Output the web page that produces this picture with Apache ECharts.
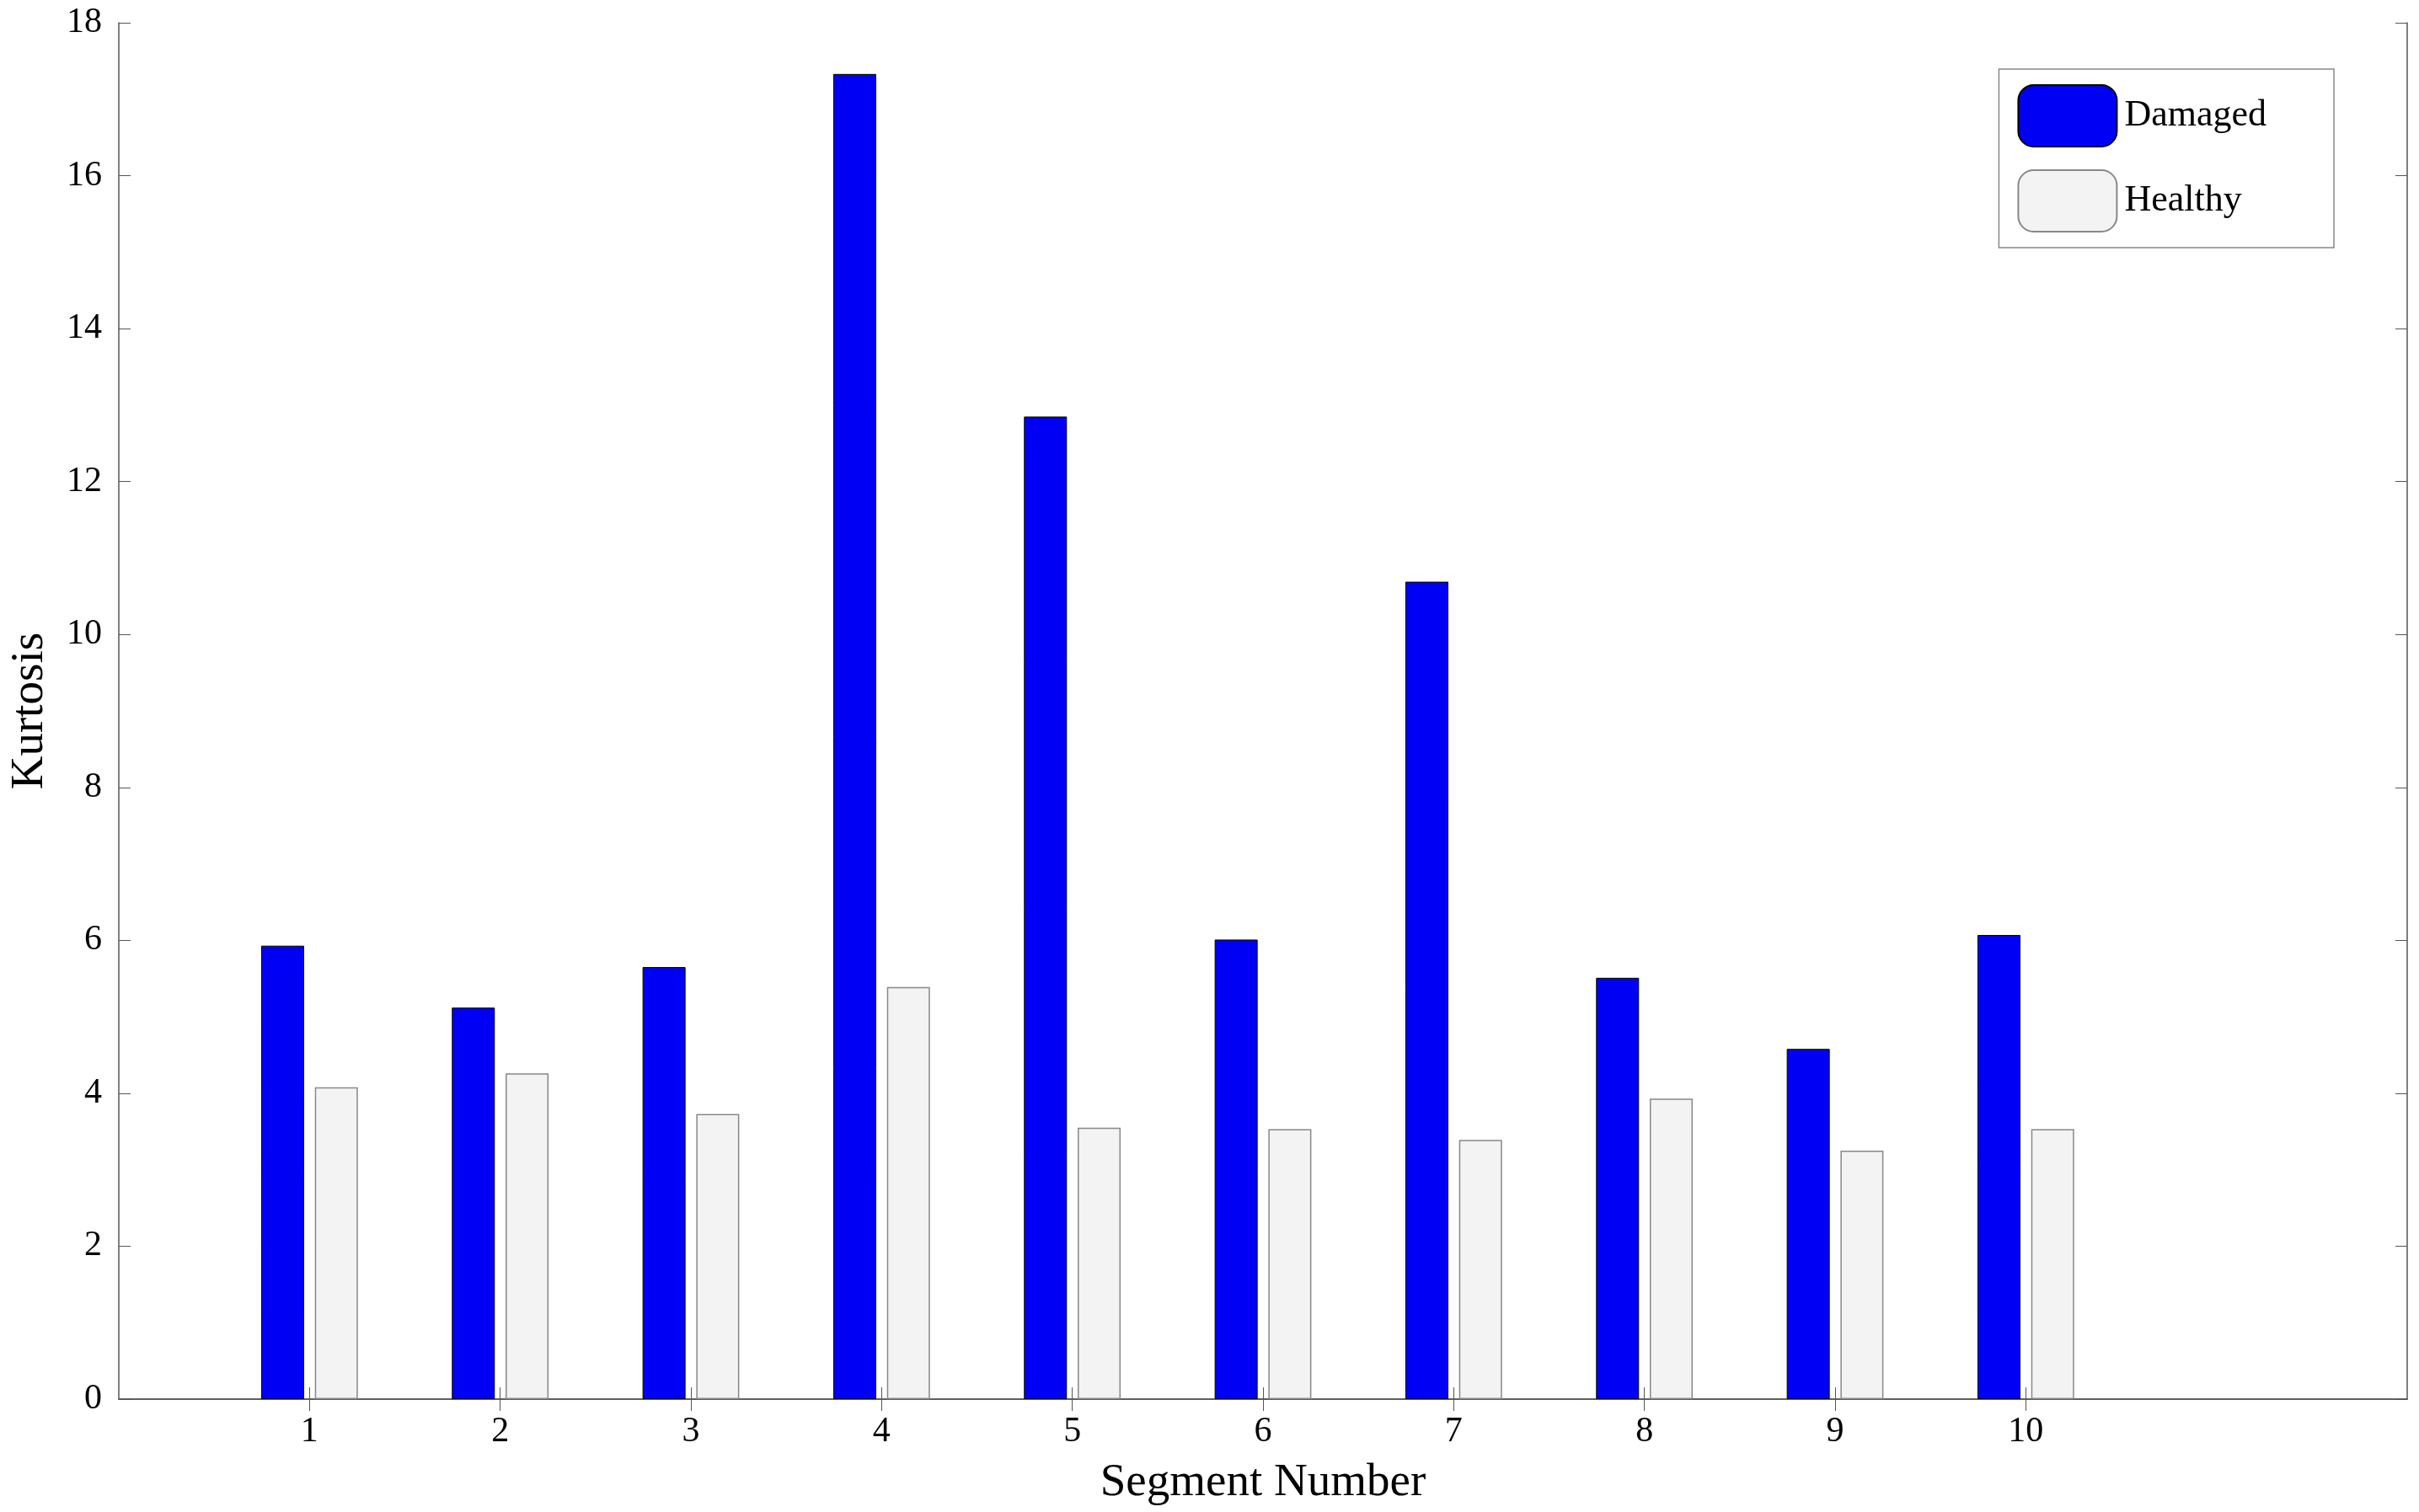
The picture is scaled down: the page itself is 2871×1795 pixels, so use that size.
<!DOCTYPE html>
<html><head><meta charset="utf-8">
<script src="https://cdn.jsdelivr.net/npm/echarts@6/dist/echarts.min.js"></script>
<style>html,body{margin:0;padding:0;background:#fff}#c{width:2871px;height:1795px}</style>
</head><body><div id="c"></div>
<script>
const categories = ['', '1','2','3','4','5','6','7','8','9','10','',''];
const damaged = [null,5.93,5.12,5.65,17.33,12.85,6.01,10.69,5.51,4.58,6.07,null,null];
const healthy = [null,4.08,4.26,3.73,5.39,3.55,3.53,3.39,3.93,3.25,3.53,null,null];
const font = 'Liberation Serif';
const chart = echarts.init(document.getElementById('c'));
const xCommon = {
  type:'category', data:categories, boundaryGap:false,
  axisLine:{lineStyle:{color:'#555',width:1.5}},
  axisTick:{inside:true,length:14,lineStyle:{color:'#555'},interval:(i,v)=>v!==''},
  splitLine:{show:false}
};
const yCommon = {
  type:'value', min:0, max:18, interval:2,
  axisLine:{show:true,lineStyle:{color:'#555',width:1.5}},
  axisTick:{show:true,inside:true,length:14,lineStyle:{color:'#555'}},
  splitLine:{show:false}
};
chart.setOption({
  animation:false,
  textStyle:{fontFamily:font},
  grid:{left:137,right:14,top:27,bottom:134},
  legend:{
    orient:'vertical', right:101, top:82, padding:[18,80,18,22],
    borderColor:'#888', borderWidth:1.5, itemWidth:117, itemHeight:73, itemGap:26,
    textStyle:{fontFamily:font,fontSize:44,color:'#000',padding:[0,0,0,4]},
    data:['Damaged','Healthy']
  },
  xAxis:[
    Object.assign({}, xCommon, {position:'bottom',name:'Segment Number',nameLocation:'middle',nameGap:72,
      nameTextStyle:{fontFamily:font,fontSize:55,color:'#000'},
      axisLabel:{fontFamily:font,fontSize:42,color:'#000',margin:18}}),
    Object.assign({}, xCommon, {position:'top',axisLabel:{show:false}})
  ],
  yAxis:[
    Object.assign({}, yCommon, {position:'left',name:'Kurtosis',nameLocation:'middle',nameGap:78,
      nameTextStyle:{fontFamily:font,fontSize:55,color:'#000'},
      axisLabel:{fontFamily:font,fontSize:42,color:'#000',margin:20}}),
    Object.assign({}, yCommon, {position:'right',axisLabel:{show:false}})
  ],
  series:[
    {name:'Damaged',type:'bar',data:damaged,barWidth:51,barGap:'25%',
     itemStyle:{color:'#0000f5',borderColor:'#000',borderWidth:1}},
    {name:'Healthy',type:'bar',data:healthy,barWidth:51,
     itemStyle:{color:'#f3f3f3',borderColor:'#888',borderWidth:1.5}}
  ]
});
</script></body></html>
